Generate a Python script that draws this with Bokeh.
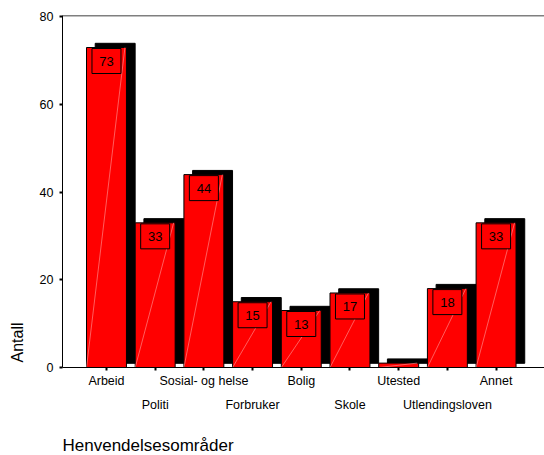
from bokeh.plotting import figure
from bokeh.models import Range1d, LinearAxis, FixedTicker, Span, Title
from bokeh.core.properties import value
from bokeh.embed import file_html
from bokeh.resources import INLINE

categories = ["Arbeid", "Politi", "Sosial- og helse", "Forbruker", "Bolig",
              "Skole", "Utested", "Utlendingsloven", "Annet"]
counts = [73, 33, 44, 15, 13, 17, 1, 18, 33]
bar_labels = ["73", "33", "44", "15", "13", "17", "", "18", "33"]
y_ticks = [0, 20, 40, 60, 80]
y_title = "Antall"
x_title = "Henvendelsesområder"

FONT = "Liberation Sans"
W, H = 544, 455
B_LEFT, B_TOP, B_BOTTOM = 62, 15, 88
frame_w = W - B_LEFT
frame_h = H - B_TOP - B_BOTTOM
px_per_cat = 48.7
x_start = -0.903
x_end = x_start + frame_w / px_per_cat
y_end = 80.3
ppu = frame_h / y_end

p = figure(width=W, height=H, x_range=Range1d(x_start, x_end), y_range=Range1d(0, y_end),
           output_backend="svg", toolbar_location=None,
           min_border_left=B_LEFT, min_border_right=0, min_border_top=B_TOP,
           min_border_bottom=B_BOTTOM)
p.grid.visible = False
p.outline_line_color = None
p.background_fill_color = "white"
p.border_fill_color = "white"

idx = list(range(len(categories)))
hw = 0.41
dx = 8.7 / px_per_cat
dy = 4.2 / ppu

# back (depth) faces
p.quad(left=[i - hw + dx for i in idx], right=[i + hw + dx for i in idx],
       bottom=[dy] * len(idx), top=[v + dy for v in counts],
       fill_color="black", line_color="black", line_width=1)
# front faces
p.quad(left=[i - hw for i in idx], right=[i + hw for i in idx],
       bottom=[0] * len(idx), top=counts,
       fill_color="#ff0000", line_color="black", line_width=1)
# faint shading diagonal
p.segment(x0=[i - hw for i in idx], y0=[0] * len(idx),
          x1=[i + hw - 1.5 / px_per_cat for i in idx], y1=counts,
          line_color="#ff9c9c", line_width=0.6)

# value boxes
lx = [i for i in idx if bar_labels[i]]
ly = [counts[i] - 13.5 / ppu for i in lx]
lt = [bar_labels[i] for i in lx]
p.rect(x=lx, y=ly, width=29, height=25, width_units="screen", height_units="screen",
       fill_color="#ff0000", line_color="black", line_width=1)
p.text(x=lx, y=ly, text=lt, text_align="center", text_baseline="middle",
       text_font=value(FONT), text_font_size="13px", text_color="black")

# y axis
ya = p.yaxis[0]
ya.ticker = FixedTicker(ticks=y_ticks)
ya.minor_tick_line_color = None
ya.major_tick_in = 0
ya.major_tick_out = 3
ya.major_tick_line_width = 2
ya.major_label_standoff = 6
ya.major_label_text_font = FONT
ya.major_label_text_font_size = "12.5px"
ya.major_label_text_color = "black"
ya.axis_line_color = "black"

# x axis row 1
xa = p.xaxis[0]
xa.ticker = FixedTicker(ticks=idx)
xa.major_label_overrides = {i: (categories[i] if i % 2 == 0 else "") for i in idx}
xa.minor_tick_line_color = None
xa.major_tick_in = 0
xa.major_tick_out = 3
xa.major_tick_line_width = 2
xa.major_label_standoff = 3
xa.major_label_text_font = FONT
xa.major_label_text_font_size = "12.5px"
xa.major_label_text_color = "black"
xa.axis_line_color = "black"

# x axis row 2
odd = [i for i in idx if i % 2 == 1]
xa2 = LinearAxis(ticker=FixedTicker(ticks=odd),
                 major_label_overrides={i: categories[i] for i in odd})
xa2.axis_line_color = None
xa2.major_tick_line_color = None
xa2.minor_tick_line_color = None
xa2.major_tick_out = 0
xa2.major_label_standoff = 7
xa2.major_label_text_font = FONT
xa2.major_label_text_font_size = "12.5px"
xa2.major_label_text_color = "black"
p.add_layout(xa2, "below")

# top frame line
p.add_layout(Span(location=y_end, dimension="width", line_color="black", line_width=1.5))

# titles (with invisible spacers)
p.add_layout(Title(text=" ", text_font_size="1px", standoff=16), "below")
p.add_layout(Title(text=x_title, align="left", text_font=FONT, text_font_size="17px",
                   text_font_style="normal", text_color="black", standoff=0), "below")
p.add_layout(Title(text=" ", text_font_size="1px", standoff=8), "left")
p.add_layout(Title(text=y_title, align="left", text_font=FONT, text_font_size="16px",
                   text_font_style="normal", text_color="black", standoff=0, offset=5), "left")

open("out.html", "w").write(file_html(p, INLINE))
